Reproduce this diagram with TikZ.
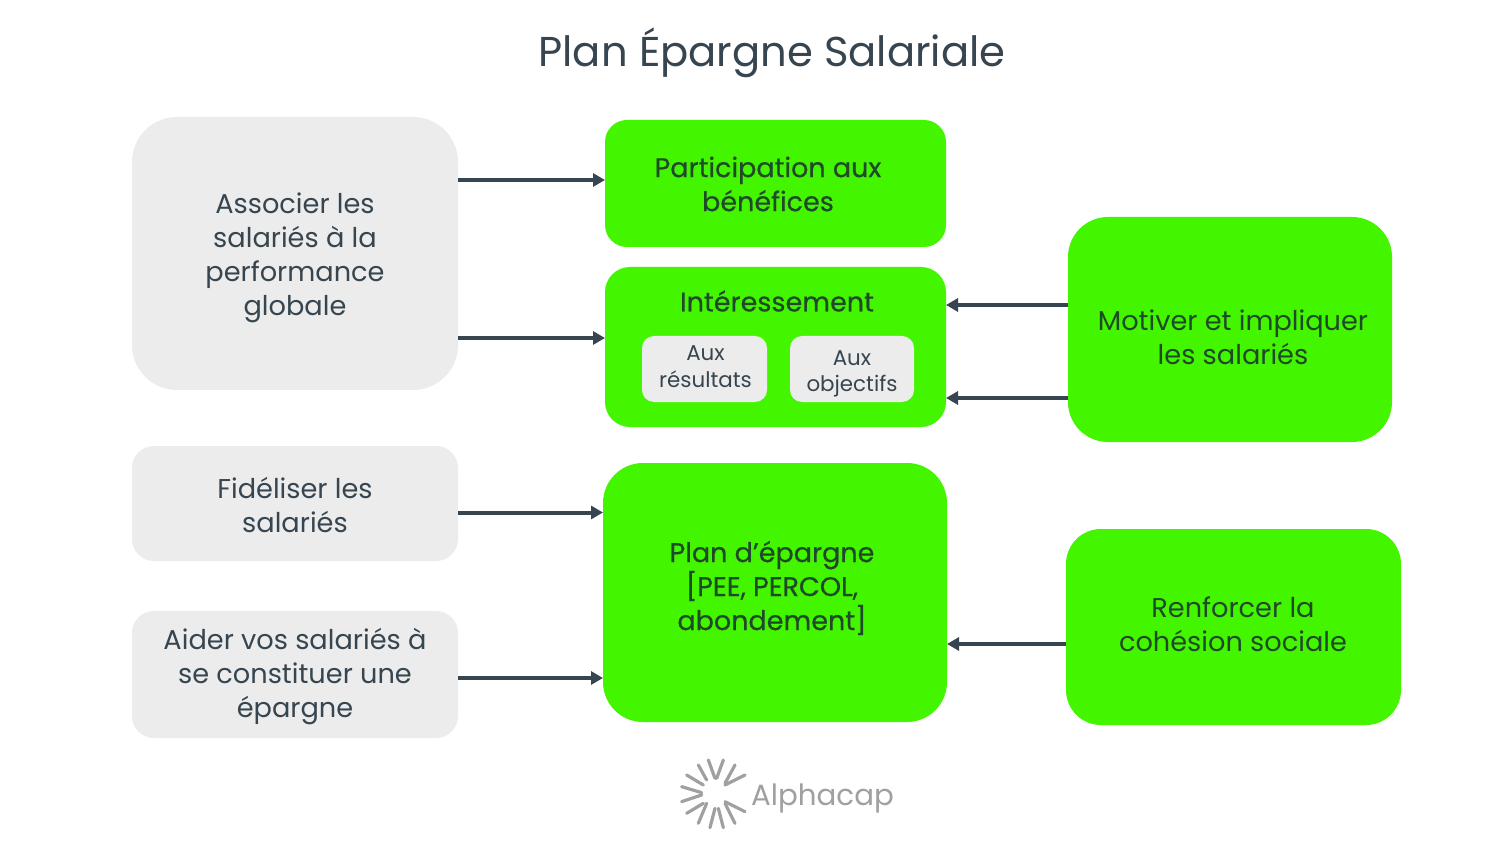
\documentclass[tikz,border=0pt]{standalone}
\usepackage{fontspec}
\usetikzlibrary{arrows.meta}
\setmainfont{Poppins}
\newfontfamily\medf[FakeBold=0.5]{Poppins}
\definecolor{gbox}{HTML}{ECECEC}
\definecolor{vert}{HTML}{44F500}
\definecolor{ink}{HTML}{36454F}
\definecolor{inkg}{HTML}{1F4A2A}
\definecolor{logo}{HTML}{A0A0A0}
\newcommand{\fs}[2]{\fontsize{#1pt}{#2pt}\selectfont}
\tikzset{
 x=1pt,y=-1pt,
 every node/.style={inner sep=0pt,outer sep=0pt,align=center},
 big/.style={font=\fs{27.2}{34}},
 bigb/.style={font=\medf\fs{27}{34}},
 sm/.style={font=\fs{21.4}{26.5}},
 boxg/.style={fill=gbox,text=ink,big},
 boxv/.style={fill=vert,text=inkg,big},
 small/.style={fill=gbox,text=ink,sm,rounded corners=12pt},
 arr/.style={draw=ink,line width=4pt,-{Triangle[length=12pt,width=13pt]}},
 ray/.style={draw=logo,line width=3.2pt,line cap=round}
}
\begin{document}
\begin{tikzpicture}
\path[use as bounding box,fill=white] (0,0) rectangle (1500,850);
\node[text=ink,font=\fs{41.7}{50}] (title) at (772,53) {Plan Épargne Salariale};
\node[boxg,rounded corners=45pt,minimum width=326pt,minimum height=273pt] (assoc) at (295,253.5) {};
\node[text=ink,big] (assoct) at (295,258) {Associer les\\salariés à la\\performance\\globale};
\node[boxg,rounded corners=22pt,minimum width=326pt,minimum height=115pt] (fid) at (295,503.5) {};
\node[text=ink,big] (fidt) at (295,505) {Fidéliser les\\salariés};
\node[boxg,rounded corners=22pt,minimum width=326pt,minimum height=127pt] (aider) at (295,674.5) {};
\node[text=ink,big] (aidert) at (295,676.5) {Aider vos salariés à\\se constituer une\\épargne};
\node[boxv,rounded corners=22pt,minimum width=341pt,minimum height=127pt] (part) at (775.5,183.5) {};
\node[text=inkg,bigb] (partt) at (768,184) {Participation aux\\bénéfices};
\node[boxv,rounded corners=25pt,minimum width=341pt,minimum height=160pt] (inter) at (775.5,347) {};
\node[text=inkg,bigb] (intert) at (777,301) {Intéressement};
\node[small,minimum width=125pt,minimum height=66pt] (res) at (704.5,369) {};
\node[text=ink,sm] (rest) at (705.5,366.5) {Aux\\résultats};
\node[small,minimum width=124pt,minimum height=66pt] (obj) at (852,369) {};
\node[text=ink,sm] (objt) at (852,374) {Aux\\objectifs};
\node[boxv,rounded corners=40pt,minimum width=344pt,minimum height=259pt] (plan) at (775,592.5) {};
\node[text=inkg,bigb] (plant) at (772,588) {Plan d’épargne\\{[}PEE, PERCOL,\\abondement{]}};
\node[boxv,rounded corners=40pt,minimum width=324pt,minimum height=225pt] (mot) at (1230,329.5) {};
\node[text=inkg,big] (mott) at (1233,337) {Motiver et impliquer\\les salariés};
\node[boxv,rounded corners=35pt,minimum width=335pt,minimum height=196pt] (ren) at (1233.5,627) {};
\node[text=inkg,big] (rent) at (1233,624) {Renforcer la\\cohésion sociale};
\draw[arr] (assoc.east |- 0,180) -- (part.west |- 0,180);
\draw[arr] (assoc.east |- 0,338) -- (inter.west |- 0,338);
\draw[arr] (fid.east |- 0,512.5) -- (plan.west |- 0,512.5);
\draw[arr] (aider.east |- 0,678) -- (plan.west |- 0,678);
\draw[arr] (mot.west |- 0,305) -- (inter.east |- 0,305);
\draw[arr] (mot.west |- 0,398) -- (inter.east |- 0,398);
\draw[arr] (ren.west |- 0,644) -- (plan.east |- 0,644);
\begin{scope}[shift={(660,745)},x=0.3333pt,y=-0.3333pt]
\foreach \a/\b/\c/\d in {115/60/140/105,145/45/165/100,190/45/170/100,225/60/195/115,255/90/195/120,80/90/130/120,65/125/125/143,65/170/125/150,80/205/130/175,115/235/140/175,150/248/165/190,190/248/175/190,225/235/195/175,255/200/195/170}
 \draw[ray] (\a,\b) -- (\c,\d);
\end{scope}
\node[text=logo,font=\fs{29.3}{36}] (brand) at (822.5,798) {Alphacap};
\end{tikzpicture}
\end{document}
